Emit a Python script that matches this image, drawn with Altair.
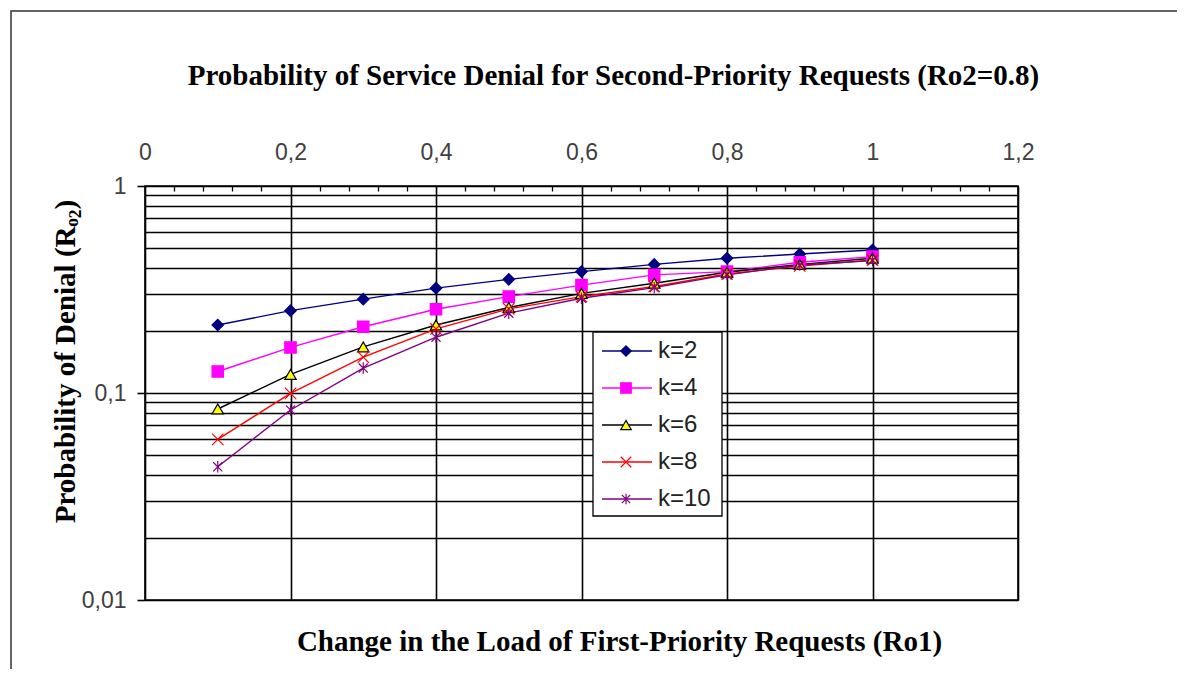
import altair as alt
import pandas as pd

# ---- data ----
load_ro1 = [0.1, 0.2, 0.3, 0.4, 0.5, 0.6, 0.7, 0.8, 0.9, 1.0]
series_names = ["k=2", "k=4", "k=6", "k=8", "k=10"]
p_k2 = [0.213, 0.250, 0.284, 0.321, 0.354, 0.386, 0.418, 0.448, 0.469, 0.491]
p_k4 = [0.127, 0.166, 0.209, 0.254, 0.292, 0.332, 0.372, 0.386, 0.428, 0.456]
p_k6 = [0.0837, 0.123, 0.167, 0.213, 0.259, 0.303, 0.339, 0.383, 0.418, 0.448]
p_k8 = [0.0597, 0.0996, 0.149, 0.204, 0.255, 0.292, 0.327, 0.376, 0.411, 0.439]
p_k10 = [0.044, 0.0828, 0.132, 0.186, 0.243, 0.287, 0.323, 0.372, 0.415, 0.436]

x_major_ticks = [0, 0.2, 0.4, 0.6, 0.8, 1.0, 1.2]
x_minor_ticks = [0.04, 0.08, 0.12, 0.16, 0.24, 0.28, 0.32, 0.36, 0.44, 0.48, 0.52, 0.56,
                 0.64, 0.68, 0.72, 0.76, 0.84, 0.88, 0.92, 0.96, 1.04, 1.08, 1.12, 1.16]
y_ticks = [0.01, 0.02, 0.03, 0.04, 0.05, 0.06, 0.07, 0.08, 0.09,
           0.1, 0.2, 0.3, 0.4, 0.5, 0.6, 0.7, 0.8, 0.9, 1.0]

title_text = "Probability of Service Denial for Second-Priority Requests (Ro2=0.8)"
x_title = "Change in the Load of First-Priority Requests (Ro1)"
y_title = "Probability of Denial  (R\u2092\u2082)"

# ---- styles ----
line_colors = ["#000080", "#FF00FF", "#000000", "#FF0000", "#800080"]
fill_colors = ["#000080", "#FF00FF", "#FFFF00", "#FF0000", "#800080"]
stroke_colors = ["#000080", "#FF00FF", "#000000", "#FF0000", "#800080"]
shapes = [
    "diamond",
    "square",
    "triangle-up",
    "M-1,-1L1,1M-1,1L1,-1",
    "M-0.8,-0.8L0.8,0.8M-0.8,0.8L0.8,-0.8M0,-1L0,1",
]

all_series = [p_k2, p_k4, p_k6, p_k8, p_k10]
rows = []
for name, vals in zip(series_names, all_series):
    for x, v in zip(load_ro1, vals):
        rows.append({"k": name, "ro1": x, "p": v})
df = pd.DataFrame(rows)
legend_df = pd.DataFrame({"k": series_names})
one_df = pd.DataFrame({"a": [0]})

W, H = 873, 414
sans = "Liberation Sans"
serif = "Liberation Serif"
TFS = 29

color_scale = alt.Scale(domain=series_names, range=line_colors)
fill_scale = alt.Scale(domain=series_names, range=fill_colors)
stroke_scale = alt.Scale(domain=series_names, range=stroke_colors)
shape_scale = alt.Scale(domain=series_names, range=shapes)
x_scale = alt.Scale(domain=[0, 1.2], nice=False, zero=False)
y_scale = alt.Scale(type="log", domain=[0.01, 1], nice=False)

decade_test = "abs(log(datum.value)/LN10 - round(log(datum.value)/LN10)) < 0.001"
num_fmt = "replace(format(datum.value, '~g'), '.', ',')"

y_axis = alt.Axis(
    values=y_ticks,
    grid=True, gridColor="black", gridWidth=1.6,
    domain=False,
    ticks=True, tickSize=8, tickColor="black", tickWidth=1.6,
    tickOpacity={"condition": {"test": decade_test, "value": 1}, "value": 0},
    labelExpr=f"({decade_test}) ? {num_fmt} : ''",
    labelFont=sans, labelFontSize=23, labelColor="#404040", labelPadding=11,
    labelFlush=False,
    title=y_title, titleFont=serif, titleFontSize=TFS, titleFontWeight="bold",
    titleColor="black", titleAngle=270, titleX=-80, titleY=175,
    titleBaseline="middle", titleAlign="center",
)

x_axis_top = alt.Axis(
    orient="top", values=x_major_ticks,
    grid=True, gridColor="black", gridWidth=1.6,
    ticks=False, domain=False, labelFlush=False,
    labelExpr=num_fmt, labelFont=sans, labelFontSize=23, labelColor="#404040",
    labelPadding=22, title=None,
)
x_axis_minor = alt.Axis(
    orient="top", values=x_minor_ticks, offset=-5,
    grid=False, domain=False, labels=False,
    ticks=True, tickSize=5, tickColor="black", tickWidth=1.3, title=None,
)
x_axis_bottom = alt.Axis(
    orient="bottom", grid=False, domain=False, labels=False, ticks=False,
    title=x_title, titleFont=serif, titleFontSize=TFS, titleFontWeight="bold",
    titleColor="black", titleX=474, titleY=41, titleBaseline="middle",
    titleAlign="center",
)

lines = alt.Chart(df).mark_line(strokeWidth=1.4).encode(
    x=alt.X("ro1:Q", scale=x_scale, axis=x_axis_top),
    y=alt.Y("p:Q", scale=y_scale, axis=y_axis),
    color=alt.Color("k:N", scale=color_scale, legend=None),
    detail="k:N",
)

points = alt.Chart(df).mark_point(filled=True, size=130, strokeWidth=1.2, opacity=1).encode(
    x=alt.X("ro1:Q", scale=x_scale, axis=x_axis_minor),
    y=alt.Y("p:Q", scale=y_scale, axis=None),
    shape=alt.Shape("k:N", scale=shape_scale, legend=None),
    fill=alt.Fill("k:N", scale=fill_scale, legend=None),
    stroke=alt.Stroke("k:N", scale=stroke_scale, legend=None),
)

bottom_title = alt.Chart(df).mark_point(opacity=0).encode(
    x=alt.X("ro1:Q", scale=x_scale, axis=x_axis_bottom),
    y=alt.Y("p:Q", scale=y_scale, axis=None),
)

frame = alt.Chart(one_df).mark_rect(fill=None, stroke="#333333", strokeWidth=1.5, clip=False).encode(
    x=alt.value(-134), x2=alt.value(W + 400),
    y=alt.value(-175), y2=alt.value(H + 400),
)

leg_y = alt.Y("k:N", scale=alt.Scale(type="point", domain=series_names, range=[165, 313], padding=0), axis=None)

legend_box = alt.Chart(one_df).mark_rect(fill="white", stroke="black", strokeWidth=1.3).encode(
    x=alt.value(448), x2=alt.value(577), y=alt.value(146), y2=alt.value(330),
)
legend_lines = alt.Chart(legend_df).mark_rule(strokeWidth=1.4).encode(
    x=alt.value(457), x2=alt.value(507), y=leg_y,
    color=alt.Color("k:N", scale=color_scale, legend=None),
)
legend_marks = alt.Chart(legend_df).mark_point(filled=True, size=110, strokeWidth=1.2, opacity=1).encode(
    x=alt.value(481), y=leg_y,
    shape=alt.Shape("k:N", scale=shape_scale, legend=None),
    fill=alt.Fill("k:N", scale=fill_scale, legend=None),
    stroke=alt.Stroke("k:N", scale=stroke_scale, legend=None),
)
legend_text = alt.Chart(legend_df).mark_text(align="left", baseline="middle", font=sans, fontSize=24, color="#222222").encode(
    x=alt.value(513), y=leg_y, text="k:N",
)

chart = alt.layer(
    frame, lines, points, bottom_title, legend_box, legend_lines, legend_marks, legend_text
).resolve_scale(
    x="independent", y="independent"
).resolve_axis(
    x="independent", y="independent"
).properties(
    width=W, height=H,
    title=alt.TitleParams(
        text=title_text, font=serif, fontSize=TFS, fontWeight="bold", color="black",
        anchor="middle", frame="group", baseline="alphabetic", dx=32, dy=104, offset=0,
    ),
    autosize=alt.AutoSizeParams(type="none"),
    padding={"left": 137, "top": 178, "right": 159, "bottom": 69},
    background="white",
).configure_view(stroke="black", strokeWidth=1.6)

chart.save("out.html", embed_options={"renderer": "svg", "actions": False})
